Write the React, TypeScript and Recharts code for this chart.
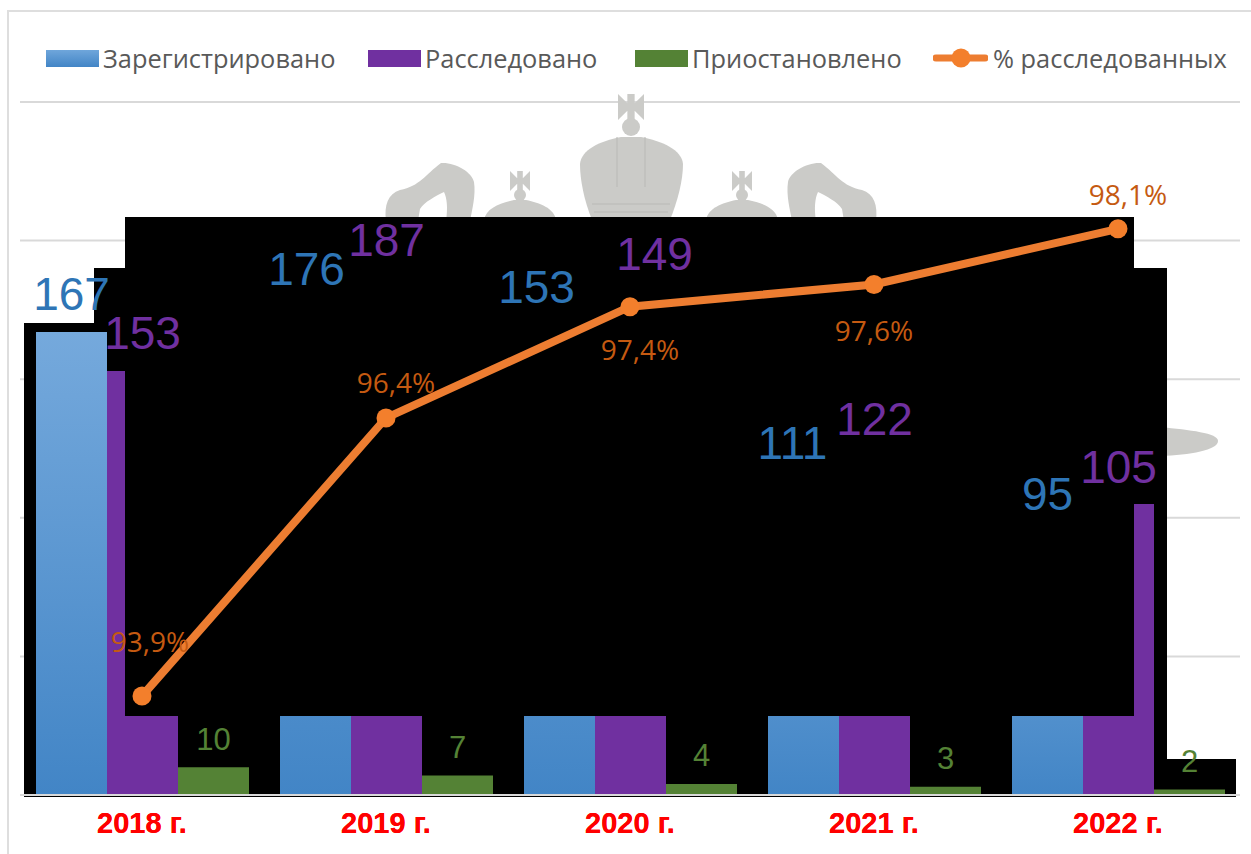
import { Bar, BarChart, CartesianGrid, ComposedChart, LabelList, Legend, Line, XAxis, YAxis } from "recharts"

const years = ["2018 г.", "2019 г.", "2020 г.", "2021 г.", "2022 г."]
const registered = [167, 176, 153, 111, 95]
const investigated = [153, 187, 149, 122, 105]
const suspended = [10, 7, 4, 3, 2]
const percent = [93.9, 96.4, 97.4, 97.6, 98.1]

const countTicks = [0, 50, 100, 150, 200, 250]

const rows = years.map((year, i) => ({
  year,
  registered: registered[i],
  investigated: investigated[i],
  suspended: suspended[i],
  percent: percent[i],
}))

const W = 1251
const H = 854
const margin = { top: 102, right: 11, bottom: 0, left: 20 }
const AXIS_H = 59

const BLUE = "#2E75B6"
const PURPLE = "#7030A0"
const GREEN = "#548235"
const ORANGE = "#ED7D31"

// hand-placed label nudges from the original slide [dx, lift above bar top]
const blueNudge = [[0, 38], [-9, 38], [-23, 84], [-11, 44], [0, 38]]
const purpleNudge = [[0, 38], [0, 37], [24, 128], [0, 38], [0, 37]]
const percentNudge = [[8, -55], [10, -36], [10, 42], [0, 46], [10, -35]]

const layer = { position: "absolute", left: 0, top: 0 } as const

function block(x0: number, y0: number, x1: number, y1: number) {
  return <div style={{ ...layer, left: x0, top: y0, width: x1 - x0, height: y1 - y0, background: "#000" }} />
}

function barLabel(color: string, size: number, nudge?: number[][]) {
  return (props: any) => {
    const box = props.viewBox ?? props
    const [dx, lift] = nudge ? nudge[props.index] : [0, 28]
    return (
      <text
        x={box.x + box.width / 2 + dx}
        y={box.y - lift}
        fill={color}
        fontSize={size}
        fontFamily="Liberation Sans"
        textAnchor="middle"
        dominantBaseline="central"
      >
        {props.value}
      </text>
    )
  }
}

function percentLabel(props: any) {
  const box = props.viewBox ?? props
  const [dx, dy] = percentNudge[props.index]
  return (
    <text
      x={box.x + dx}
      y={box.y + dy}
      fill="#C55A11"
      fontSize={28}
      fontFamily="Open Sans"
      textAnchor="middle"
      dominantBaseline="central"
    >
      {String(props.value).replace(".", ",") + "%"}
    </text>
  )
}

const legendX = [46, 368, 635, 933]

function LegendRow({ payload }: any) {
  return (
    <div style={{ position: "relative", width: W, height: 30 }}>
      {(payload ?? []).map((item: any, i: number) => (
        <div key={item.value} style={{ position: "absolute", left: legendX[i], top: 0, height: 30, display: "flex", alignItems: "center" }}>
          {i < 3 ? (
            <div
              style={{
                width: 53,
                height: 17,
                background: i === 0 ? "linear-gradient(#6FA6DB,#4285C6)" : i === 1 ? PURPLE : GREEN,
              }}
            />
          ) : (
            <svg width={55} height={20}>
              <line x1={3} x2={52} y1={10} y2={10} stroke={ORANGE} strokeWidth={7} strokeLinecap="round" />
              <circle cx={28} cy={10} r={9.5} fill="#F37F2C" />
            </svg>
          )}
          <span style={{ marginLeft: i === 3 ? 5 : 4, fontSize: 25.4, fontFamily: "Open Sans", color: "#595959", whiteSpace: "nowrap" }}>
            {item.value}
          </span>
        </div>
      ))}
    </div>
  )
}

// flared cross drawn around its centre
function cross(cx: number, cy: number, r: number) {
  const n = r * 0.28
  return (
    <path
      d={`M${cx - r},${cy - r} L${cx - n},${cy - n} L${cx - n},${cy - r} L${cx + n},${cy - r} L${cx + n},${cy - n} L${cx + r},${cy - r} L${cx + r},${cy + r} L${cx + n},${cy + n} L${cx + n},${cy + r} L${cx - n},${cy + r} L${cx - n},${cy + n} L${cx - r},${cy + r} Z`}
    />
  )
}

function Emblem() {
  const ribbon = "M386,221 C384,205 388,194 400,190 C420,186 425,175 441,163 C455,162 472,172 474,182 C476,195 472,210 470,221 L446,221 C448,208 447,198 444,192 C436,196 424,202 420,209 L418,221 Z"
  const smallCrown = (cx: number) => (
    <g>
      {cross(cx, 181, 10)}
      <circle cx={cx} cy={195} r={6} />
      <path d={`M${cx - 36},220 C${cx - 34},208 ${cx - 20},203 ${cx - 6},200 h12 C${cx + 20},203 ${cx + 34},208 ${cx + 36},220 Z`} />
    </g>
  )
  return (
    <svg width={W} height={H} style={layer} fill="#CBCBC8">
      <path d={ribbon} />
      <path d={ribbon} transform="matrix(-1 0 0 1 1262 0)" />
      {smallCrown(520)}
      {smallCrown(742)}
      {cross(631, 107, 13)}
      <circle cx={631} cy={127} r={9} />
      <path d="M592,220 C584,200 580,180 580,164 C581,150 600,141 621,137 h20 C662,141 682,150 683,164 C683,180 678,200 670,220 Z" />
      <path d="M617,137 v50 M645,137 v50 M592,204 h78 M594,212 h74" stroke="#B9B9B6" strokeWidth={1} fill="none" />
      <path d="M1160,427 C1190,430 1218,433 1218,441 C1218,450 1190,455 1160,456 Z" />
    </svg>
  )
}

function axes() {
  return [
    <XAxis
      key="x"
      dataKey="year"
      height={AXIS_H}
      stroke="#D9D9D9"
      strokeWidth={2}
      tickLine={false}
      tickMargin={11}
      tick={{ fill: "#FF0000", fontSize: 29, fontWeight: 700, fontFamily: "Liberation Sans" }}
    />,
    <YAxis key="y" hide yAxisId="count" domain={[0, 250]} ticks={countTicks} />,
  ]
}

export default function App() {
  return (
    <div style={{ position: "fixed", left: 0, top: 0, width: W, height: H, background: "#fff", overflow: "hidden" }}>
      <div style={{ ...layer, left: 7, top: 10, width: W, height: H, borderLeft: "2px solid #DEDEDE", borderTop: "2px solid #DEDEDE" }} />

      <div style={layer}>
        <BarChart width={W} height={H} data={rows} margin={margin}>
          <CartesianGrid vertical={false} stroke="#D9D9D9" strokeWidth={2} yAxisId="count" />
          {axes()}
          <Bar yAxisId="count" dataKey="registered" fill="none" isAnimationActive={false} />
        </BarChart>
      </div>

      <Emblem />

      {block(24, 323, 100, 797)}
      {block(94, 268, 1167, 797)}
      {block(1150, 759, 1236, 797)}

      <div style={layer}>
        <BarChart width={W} height={H} data={rows} margin={margin} barCategoryGap={16} barGap={0}>
          <defs>
            <linearGradient id="blueFill" x1="0" y1="0" x2="0" y2="1">
              <stop offset="0%" stopColor="#75A9DC" />
              <stop offset="100%" stopColor="#4285C6" />
            </linearGradient>
          </defs>
          {axes()}
          <Bar yAxisId="count" dataKey="registered" fill="url(#blueFill)" isAnimationActive={false} />
          <Bar yAxisId="count" dataKey="investigated" fill={PURPLE} isAnimationActive={false} />
          <Bar yAxisId="count" dataKey="suspended" fill={GREEN} isAnimationActive={false} />
        </BarChart>
      </div>

      {block(125, 217, 1134, 716)}

      <div style={layer}>
        <ComposedChart width={W} height={H} data={rows} margin={{ ...margin, bottom: AXIS_H }} barCategoryGap={16} barGap={0}>
          <XAxis dataKey="year" hide />
          <YAxis hide yAxisId="count" domain={[0, 250]} />
          <YAxis hide yAxisId="pct" orientation="right" domain={[93.01, 99.24]} />
          <Legend
            layout="horizontal"
            verticalAlign="middle"
            itemSorter={null}
            wrapperStyle={{ left: 0, top: 43, width: W, height: 30 }}
            content={LegendRow}
          />
          <Bar yAxisId="count" name="Зарегистрировано" dataKey="registered" fill="none" isAnimationActive={false}>
            <LabelList dataKey="registered" content={barLabel(BLUE, 46, blueNudge)} />
          </Bar>
          <Bar yAxisId="count" name="Расследовано" dataKey="investigated" fill="none" isAnimationActive={false}>
            <LabelList dataKey="investigated" content={barLabel(PURPLE, 46, purpleNudge)} />
          </Bar>
          <Bar yAxisId="count" name="Приостановлено" dataKey="suspended" fill="none" isAnimationActive={false}>
            <LabelList dataKey="suspended" content={barLabel(GREEN, 31)} />
          </Bar>
          <Line
            yAxisId="pct"
            name="% расследованных"
            dataKey="percent"
            stroke={ORANGE}
            strokeWidth={8}
            dot={{ r: 9.5, fill: "#F37F2C", stroke: "none" }}
            isAnimationActive={false}
          >
            <LabelList dataKey="percent" content={percentLabel} />
          </Line>
        </ComposedChart>
      </div>
    </div>
  )
}
